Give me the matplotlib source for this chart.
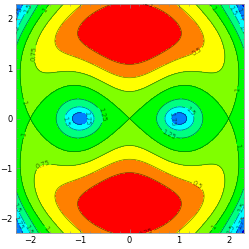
import numpy as np
import matplotlib
matplotlib.use("Agg")
import matplotlib.pyplot as plt

# contour levels and the Hue-like band colours (low -> high)
levels = [0.25, 0.5, 0.75, 1.0, 1.25, 1.5, 1.75, 2.0]
band_colors = ["#ff0000", "#ff8000", "#ffff00", "#80ff00", "#00ff00",
               "#00ff80", "#00ffff", "#0080ff", "#0000ff"]
ticks = [-2, -1, 0, 1, 2]
tick_labels = ["\u22122", "\u22121", "0", "1", "2"]
span = 2.3

# field shape: eye curve, arms bending to the corners, envelope, two maxima
eye_y = 2.87
arm_q = 0.552
arm_s = 0.01853
env = [0.33, 0.078, 0.36]     # base, x^2 gain, y^2 decay
peak_x = [-1.0, 1.0]
peak_h = 0.52
peak_w = [0.25, 0.18]
low_y = [-1.65, 1.65]         # the two minima
low_h = 0.032
low_w = [1.2, 0.3]

# label positions (data coords)
label_xy = [(-2.28, 2.12), (-2.05, 2.2), (-1.75, 2.2), (-2.25, 1.75),
            (-1.86, 1.30), (-1.27, -0.05), (-0.85, 0.01), (-0.51, 0.09),
            (1.23, 0.15), (0.87, -0.01), (0.77, -0.36), (1.43, 1.24),
            (0.0, 2.22), (1.68, 2.2), (2.12, 2.2), (2.25, 2.08), (2.23, 1.76),
            (2.18, 0.58), (2.18, -0.54), (-2.12, 0.33), (-2.12, -0.33),
            (-1.76, -0.88), (-2.25, -1.77), (-2.28, -2.12), (-2.02, -2.22),
            (-1.72, -2.22), (1.43, -1.24), (2.23, -1.77), (2.25, -2.08),
            (1.74, -2.22), (2.04, -2.22), (0.02, -2.22)]

x = np.linspace(-span, span, 461)
y = np.linspace(-span, span, 461)
X, Y = np.meshgrid(x, y)
u = np.pi * X / 2
T = (np.sin(u) ** 2 - eye_y * Y ** 2 + arm_q * X ** 2 * Y ** 2
     + arm_s * X ** 2 * Y ** 6)
K = env[0] * (1 + env[1] * X ** 2) * np.exp(-env[2] * Y ** 2)
for px in peak_x:
    K = K + peak_h * np.exp(-(X - px) ** 2 / (2 * peak_w[0] ** 2)
                            - Y ** 2 / (2 * peak_w[1] ** 2))
for py in low_y:
    K = K + low_h * np.exp(-X ** 2 / (2 * low_w[0] ** 2)
                           - (Y - py) ** 2 / (2 * low_w[1] ** 2))
F = 1 + K * T

fig = plt.figure(figsize=(2.49, 2.49), dpi=100)
ax = fig.add_axes([15.5 / 249, 16 / 249, 228 / 249, 229 / 249])
bounds = [F.min() - 1] + levels + [F.max() + 1]
ax.contourf(X, Y, F, levels=bounds, colors=band_colors)
cs = ax.contour(X, Y, F, levels=levels, colors="k", linewidths=0.5, alpha=0.55)
ax.clabel(cs, fmt=lambda v: f"{v:g}", fontsize=4.8, inline=True,
          inline_spacing=1, manual=label_xy, colors="k")

ax.set_xlim(-span, span)
ax.set_ylim(-span, span)
ax.set_xticks(ticks)
ax.set_yticks(ticks)
ax.set_xticklabels(tick_labels)
ax.set_yticklabels(tick_labels)
ax.set_xticks(np.arange(-2.2, 2.21, 0.2), minor=True)
ax.set_yticks(np.arange(-2.2, 2.21, 0.2), minor=True)
ax.tick_params(which="both", direction="in", top=True, right=True,
               labelsize=6, pad=2, color="#888888")
ax.tick_params(which="major", length=3, width=0.5)
ax.tick_params(which="minor", length=1.5, width=0.4)
for sp in ax.spines.values():
    sp.set_color("#999999")
    sp.set_linewidth(0.6)

fig.savefig("out.png", dpi=100)
